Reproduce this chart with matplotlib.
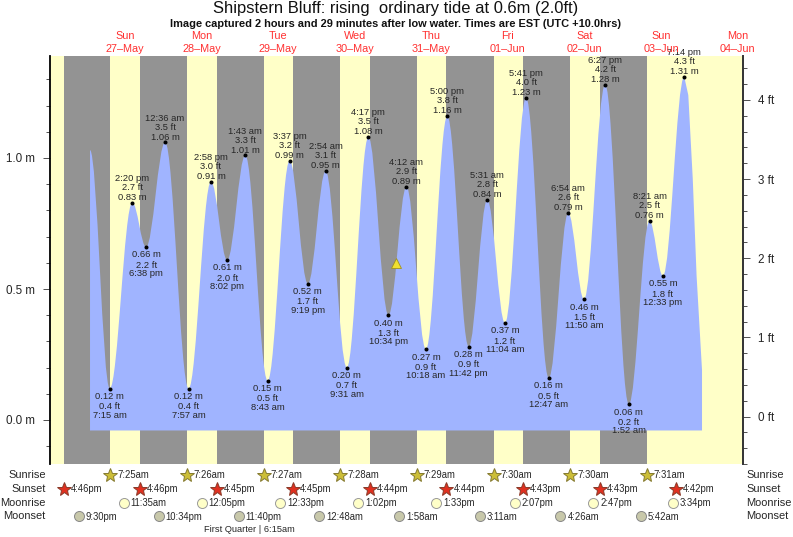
import matplotlib
matplotlib.use("Agg")
import matplotlib.pyplot as plt
from matplotlib.path import Path
from matplotlib.patches import PathPatch

plt.rcParams['font.family'] = ['Liberation Sans', 'DejaVu Sans']

W, H = 793, 537
TITLE = "Shipstern Bluff: rising  ordinary tide at 0.6m (2.0ft)"
SUBTITLE = "Image captured 2 hours and 29 minutes after low water. Times are EST (UTC +10.0hrs)"

# All times: hours after midnight at the start of Sun 27-May
day_noon = [12, 36, 60, 84, 108, 132, 156, 180, 204]
day_names = ["Sun", "Mon", "Tue", "Wed", "Thu", "Fri", "Sat", "Sun", "Mon"]
day_dates = ["27–May", "28–May", "29–May", "30–May", "31–May", "01–Jun", "02–Jun", "03–Jun", "04–Jun"]

# Where the tide curve begins and how its falling tail ends
tide_start_hour, tide_start_m = 1.07, 1.03
tail_hours = [188.50, 189.90, 191.10, 192.80]
tail_m = [1.24, 0.92, 0.55, 0.19]
tide_floor = -0.04

# Labelled highs and lows
high_hours = [14.33, 24.60, 38.97, 49.72, 63.62, 74.90, 88.28, 100.20, 113.00, 125.52, 137.68, 150.90, 162.45, 176.35, 187.23]
high_m = [0.83, 1.06, 0.91, 1.01, 0.99, 0.95, 1.08, 0.89, 1.16, 0.84, 1.23, 0.79, 1.28, 0.76, 1.31]
high_ft = ["2.7", "3.5", "3.0", "3.3", "3.2", "3.1", "3.5", "2.9", "3.8", "2.8", "4.0", "2.6", "4.2", "2.5", "4.3"]
high_time = ["2:20 pm", "12:36 am", "2:58 pm", "1:43 am", "3:37 pm", "2:54 am", "4:17 pm", "4:12 am", "5:00 pm",
             "5:31 am", "5:41 pm", "6:54 am", "6:27 pm", "8:21 am", "7:14 pm"]
low_hours = [7.25, 18.63, 31.95, 44.03, 56.72, 69.32, 81.52, 94.57, 106.30, 119.70, 131.07, 144.78, 155.83, 169.87, 180.55]
low_m = [0.12, 0.66, 0.12, 0.61, 0.15, 0.52, 0.20, 0.40, 0.27, 0.28, 0.37, 0.16, 0.46, 0.06, 0.55]
low_ft = ["0.4", "2.2", "0.4", "2.0", "0.5", "1.7", "0.7", "1.3", "0.9", "0.9", "1.2", "0.5", "1.5", "0.2", "1.8"]
low_time = ["7:15 am", "6:38 pm", "7:57 am", "8:02 pm", "8:43 am", "9:19 pm", "9:31 am", "10:34 pm", "10:18 am",
            "11:42 pm", "11:04 am", "12:47 am", "11:50 am", "1:52 am", "12:33 pm"]
now_hour, now_m = 97.05, 0.60

sunset_hours = [-7.23, 16.77, 40.75, 64.75, 88.73, 112.73, 136.72, 160.72, 184.70]
sunset_text = ["4:46pm", "4:46pm", "4:45pm", "4:45pm", "4:44pm", "4:44pm", "4:43pm", "4:43pm", "4:42pm"]
sunrise_hours = [7.42, 31.43, 55.45, 79.47, 103.48, 127.50, 151.50, 175.52]
sunrise_text = ["7:25am", "7:26am", "7:27am", "7:28am", "7:29am", "7:30am", "7:30am", "7:31am"]
moonrise_hours = [11.58, 36.08, 60.55, 85.03, 109.55, 134.12, 158.78, 183.57]
moonrise_text = ["11:35am", "12:05pm", "12:33pm", "1:02pm", "1:33pm", "2:07pm", "2:47pm", "3:34pm"]
moonset_hours = [-2.50, 22.57, 47.67, 72.80, 97.97, 123.18, 148.43, 173.70]
moonset_text = ["9:30pm", "10:34pm", "11:40pm", "12:48am", "1:58am", "3:11am", "4:26am", "5:42am"]

GREY, YELLOW, BLUE = "#939393", "#FFFFC8", "#A0B4FF"
TXT = "#262626"

fig = plt.figure(figsize=(W / 100, H / 100), dpi=100, facecolor="white")
L, R, T, B = 50, 743, 56, 464
ax = fig.add_axes([L / W, 1 - B / H, (R - L) / W, (B - T) / H])
PX_PER_HOUR, X0 = 3.192, 86.6
ax.set_xlim((L - X0) / PX_PER_HOUR, (R - X0) / PX_PER_HOUR)
ax.set_ylim((420 - B) / 262, (420 - T) / 262)
ax.set_facecolor(YELLOW)

for start, end in zip(sunset_hours, sunrise_hours):
    ax.axvspan(start, end, color=GREY, lw=0, zorder=1)

# Tide area: a smooth path with level tangents at each high and low
turns = sorted(zip(low_hours + high_hours, low_m + high_m))
verts = [(tide_start_hour, tide_floor), (tide_start_hour, tide_start_m)]
codes = [Path.MOVETO, Path.LINETO]
prev_t, prev_m = tide_start_hour, tide_start_m
for t, m in turns:
    k = 0.3642 * (t - prev_t)
    verts += [(prev_t + k, prev_m), (t - k, m), (t, m)]
    codes += [Path.CURVE4] * 3
    prev_t, prev_m = t, m
for t, m in zip(tail_hours, tail_m):
    verts.append((t, m))
    codes.append(Path.LINETO)
verts += [(tail_hours[-1], tide_floor), (tide_start_hour, tide_floor)]
codes += [Path.LINETO, Path.CLOSEPOLY]
ax.add_patch(PathPatch(Path(verts, codes), facecolor=BLUE, edgecolor="none", lw=0, zorder=2))

ax.plot(high_hours + low_hours, high_m + low_m, "o", color="black", ms=2.9, mew=0, zorder=4)
ax.plot([now_hour], [now_m], "^", color="#F0E030", mec="#A09020", mew=0.6, ms=7, zorder=5)

def note(x, y, s, dy):
    ax.annotate(s, (x, y), xytext=(0, -dy * 0.72), textcoords="offset points", ha="center", va="baseline",
                fontsize=6.75, color=TXT, annotation_clip=False, zorder=6)

for x, m, ft, t in zip(high_hours, high_m, high_ft, high_time):
    note(x, m, f"{m:.2f} m", -2.7)
    note(x, m, f"{ft} ft", -12.7)
    note(x, m, t, -21.7)
for x, m, ft, t in zip(low_hours, low_m, low_ft, low_time):
    note(x, m, f"{m:.2f} m", 10.3)
    note(x, m, f"{ft} ft", 20.7)
    note(x, m, t, 29.0)

# Axes
for side in ("top", "bottom", "right"):
    ax.spines[side].set_visible(False)
ax.spines["left"].set_linewidth(1.3)
ax.set_xticks([])
ax.set_yticks([0, 0.5, 1.0])
ax.set_yticklabels(["0.0 m", "0.5 m", "1.0 m"], fontsize=8.4, color=TXT)
ax.set_yticks([-0.1, 0.1, 0.2, 0.3, 0.4, 0.6, 0.7, 0.8, 0.9, 1.1, 1.2, 1.3], minor=True)
ax.tick_params(axis="y", which="major", length=5, width=0.6, pad=6, color="#333333")
ax.tick_params(axis="y", which="minor", length=2.6, width=0.6, color="#333333")

rax = ax.twinx()
rax.set_ylim((417 - B) / 79.25, (417 - T) / 79.25)
for side in ("top", "bottom", "left"):
    rax.spines[side].set_visible(False)
rax.spines["right"].set_linewidth(1.4)
rax.spines["right"].set_color("#333333")
rax.set_yticks([0, 1, 2, 3, 4])
rax.set_yticklabels(["0 ft", "1 ft", "2 ft", "3 ft", "4 ft"], fontsize=8.4, color=TXT)
rax.set_yticks([-0.6, -0.4, -0.2, 0.2, 0.4, 0.6, 0.8, 1.2, 1.4, 1.6, 1.8, 2.2, 2.4, 2.6, 2.8,
                3.2, 3.4, 3.6, 3.8, 4.2, 4.4], minor=True)
rax.tick_params(axis="y", which="major", length=5, width=0.6, pad=5.5, color="#333333")
rax.tick_params(axis="y", which="minor", length=2.6, width=0.6, color="#333333")

# Everything outside the plot box, positioned in figure pixels
ov = fig.add_axes([0, 0, 1, 1], facecolor="none")
ov.set_xlim(0, W)
ov.set_ylim(H, 0)
ov.axis("off")

def to_px(h):
    return X0 + h * PX_PER_HOUR

ov.text(396, 8, TITLE, ha="center", va="center", fontsize=11.9, color="#111111")
ov.text(396, 24, SUBTITLE, ha="center", va="center", fontsize=7.95, fontweight="bold", color="#111111")
for h, name, date in zip(day_noon, day_names, day_dates):
    ov.text(to_px(h), 36, name, ha="center", va="center", fontsize=7.8, color="#FF3030")
    ov.text(to_px(h), 49, date, ha="center", va="center", fontsize=7.8, color="#FF3030")

rows = [("Sunrise", 475, sunrise_hours, sunrise_text, dict(marker="*", ms=10.5, mfc="#CCBE38", mec="#857A30")),
        ("Sunset", 489, sunset_hours, sunset_text, dict(marker="*", ms=10.5, mfc="#E03020", mec="#8A3A28")),
        ("Moonrise", 503, moonrise_hours, moonrise_text, dict(marker="o", ms=7.2, mfc="#FFFFC8", mec="#999999")),
        ("Moonset", 516, moonset_hours, moonset_text, dict(marker="o", ms=7.2, mfc="#C8C8AA", mec="#888888"))]
for name, y, hours, texts, style in rows:
    ov.text(45.5, y, name, ha="right", va="center", fontsize=7.9, color=TXT)
    ov.text(746.5, y, name, ha="left", va="center", fontsize=7.9, color=TXT)
    for h, t in zip(hours, texts):
        ov.plot([to_px(h)], [y], ls="none", mew=0.7, **style)
        ov.text(to_px(h) + 7, y + 0.5, t, ha="left", va="center", fontsize=6.85, color=TXT)
ov.text(249, 529, "First Quarter | 6:15am", ha="center", va="center", fontsize=6.7, color=TXT)

fig.savefig("out.png", dpi=100, facecolor="white")
